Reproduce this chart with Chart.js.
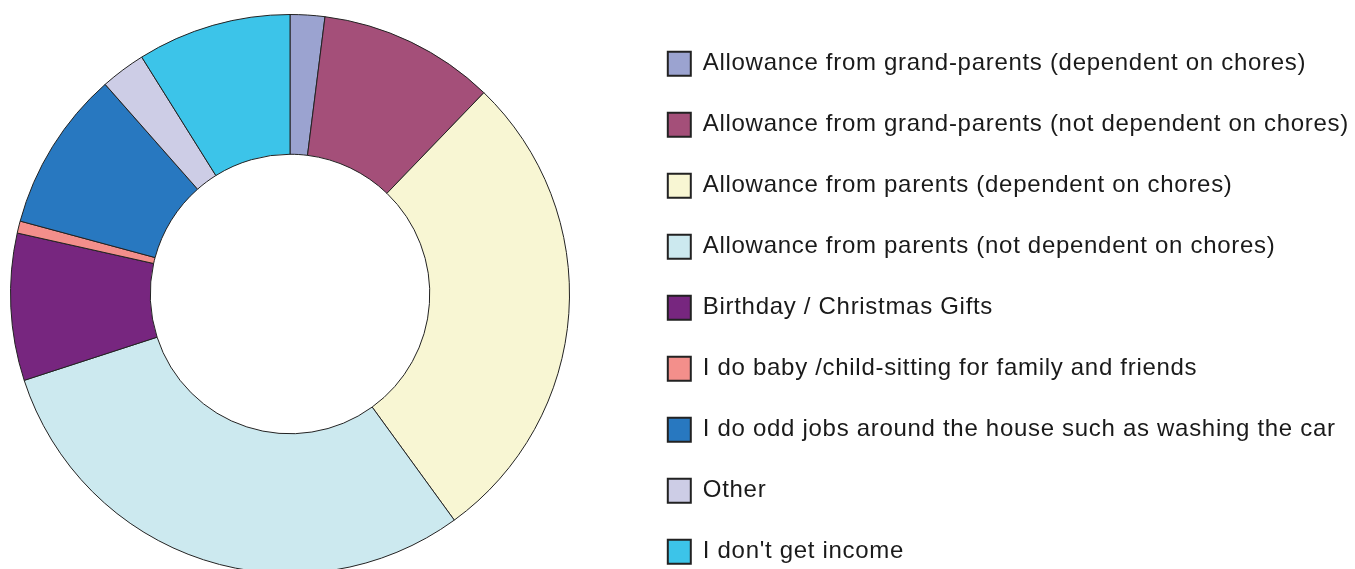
<!DOCTYPE html>
<html>
<head>
<meta charset="utf-8">
<script src="https://cdn.jsdelivr.net/npm/chart.js@4"></script>
<style>
  html, body { margin: 0; padding: 0; background: #fff; overflow: hidden; }
  #wrap { width: 1355px; height: 608px; position: relative; margin-top: -10px; }
</style>
</head>
<body>
<div id="wrap"><canvas id="myChart"></canvas></div>
<script>
// sources of income (percent of answers)
const labels = [
    'Allowance from grand-parents (dependent on chores)',
    'Allowance from grand-parents (not dependent on chores)',
    'Allowance from parents (dependent on chores)',
    'Allowance from parents (not dependent on chores)',
    'Birthday / Christmas Gifts',
    'I do baby /child-sitting for family and friends',
    'I do odd jobs around the house such as washing the car',
    'Other',
    "I don't get income"
]
const values = [2.0, 10.2, 27.8, 30.0, 8.5, 0.7, 9.3, 2.6, 8.9]
const colors = ['#9ba3d0', '#a44f79', '#f8f6d3', '#cce9ef', '#77267f', '#f38f8b', '#2878c0', '#cdcde6', '#3cc4e9']

// moves the legend to where it sits in the picture and lets it use the full right side
const legendShift = {
    id: 'legendShift',
    afterLayout(chart) {
        const l = chart.legend
        l.left += 60.8
        l.right = chart.width
        l.width = l.right - l.left
        l.top += 23.8; l.bottom += 23.8
    },
    beforeDraw(chart) {
        chart.ctx.letterSpacing = '0.7px'
    }
}

const ctx = document.getElementById('myChart').getContext('2d')
const myChart = new Chart(ctx, {
    type: 'doughnut',
    data: {
        labels: labels,
        datasets: [{
            data: values,
            backgroundColor: colors,
            borderColor: '#222',
            borderWidth: 1
        }]
    },
    options: {
        responsive: true,
        maintainAspectRatio: false,
        animation: false,
        cutout: '50%',
        layout: { padding: { left: 10, right: 285, top: -20, bottom: 0 } },
        plugins: {
            tooltip: { enabled: false },
            legend: {
                position: 'right',
                maxWidth: 500,
                labels: {
                    boxWidth: 23,
                    boxHeight: 24,
                    padding: 37.0,
                    color: '#1a1a1a',
                    font: { family: '"Liberation Sans", Arial, sans-serif', size: 24, lineHeight: 1.2 },
                    generateLabels(chart) {
                        const items = Chart.overrides.doughnut.plugins.legend.labels.generateLabels(chart)
                        items.forEach(it => { it.lineWidth = 2; it.strokeStyle = '#222' })
                        return items
                    }
                }
            }
        }
    },
    plugins: [legendShift]
})
</script>
</body>
</html>
